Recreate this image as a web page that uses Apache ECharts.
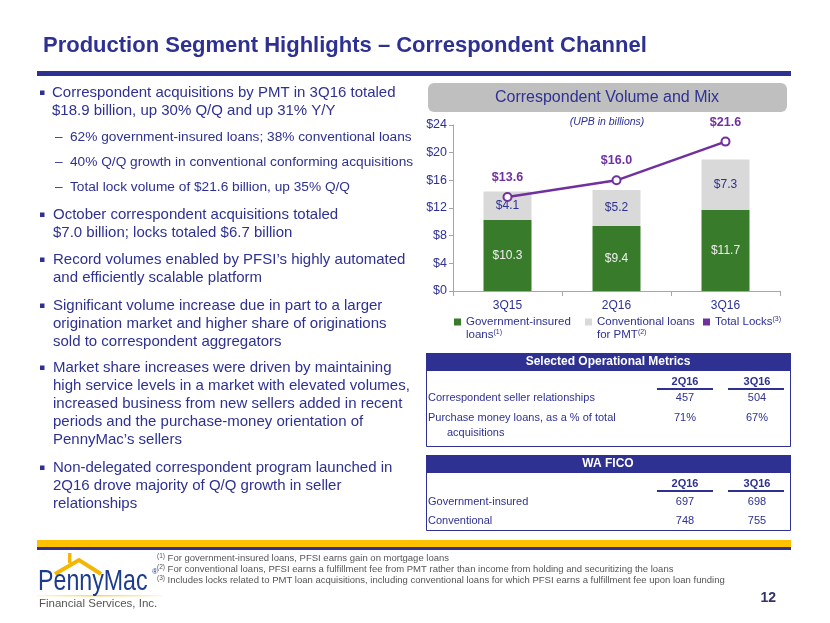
<!DOCTYPE html>
<html><head><meta charset="utf-8">
<script src="https://cdn.jsdelivr.net/npm/echarts@6/dist/echarts.min.js"></script>
<style>html,body{margin:0;padding:0;background:#fff}#c{width:830px;height:623px}</style>
</head><body><div id="c"></div>
<script>
// ---- data ----
const categories = ['3Q15', '2Q16', '3Q16'];
const govInsured = [10.3, 9.4, 11.7];
const conventional = [4.1, 5.2, 7.3];
const totalLocks = [13.6, 16.0, 21.6];
const yMin = 0, yMax = 24, yStep = 4;
const metricCols = ['2Q16', '3Q16'];
const sellerRel = ['457', '504'];
const purchasePct = ['71%', '67%'];
const ficoGov = ['697', '698'];
const ficoConv = ['748', '755'];

// ---- style ----
const BLUE = '#2E3192';
const GREEN = '#387C2B';
const GRAY = '#D9D9D9';
const PURPLE = '#7030A0';
const FONT = '"Liberation Sans", Arial, Helvetica, sans-serif';

function T(x, y, text, size, o) {
  o = o || {};
  return {
    type: 'text', x: x, y: y, silent: true, z: 10,
    scaleX: o.scaleX || 1,
    style: {
      text: text,
      font: (o.italic ? 'italic ' : '') + (o.bold ? 'bold ' : '') + size + 'px ' + FONT,
      fill: o.fill || BLUE,
      align: o.align || 'left', textAlign: o.align || 'left',
      verticalAlign: o.va || 'middle', textVerticalAlign: o.va || 'middle',
      lineHeight: o.lh, rich: o.rich
    }
  };
}
function R(x, y, w, h, fill, o) {
  o = o || {};
  return { type: 'rect', silent: true, z: o.z || 5, shape: { x: x, y: y, width: w, height: h, r: o.r || 0 },
    style: { fill: fill, stroke: o.stroke || null, lineWidth: o.lw || 0 } };
}

const G = [];
// title
G.push(T(43, 46, 'Production Segment Highlights \u2013 Correspondent Channel', 22, { bold: true }));
G.push(R(37, 71, 754, 5, BLUE));

// left bullet text
function para(y, lines, x, size, bullet) {
  if (bullet === 'sq') G.push(R(40, y - 2.5, 4.5, 4.5, BLUE));
  if (bullet === 'dash') G.push(T(55, y, '\u2013', size));
  G.push(T(x, y - 9, lines.join('\n'), size, { va: 'top', lh: 18 }));
}
para(93, ['Correspondent acquisitions by PMT in 3Q16 totaled', '$18.9 billion, up 30% Q/Q and up 31% Y/Y'], 52, 15, 'sq');
para(137, ['62% government-insured loans; 38% conventional loans'], 70, 13.7, 'dash');
para(162, ['40% Q/Q growth in conventional conforming acquisitions'], 70, 13.7, 'dash');
para(187, ['Total lock volume of $21.6 billion, up 35% Q/Q'], 70, 13.7, 'dash');
para(215, ['October correspondent acquisitions totaled', '$7.0 billion; locks totaled $6.7 billion'], 53, 15, 'sq');
para(260, ['Record volumes enabled by PFSI\u2019s highly automated', 'and efficiently scalable platform'], 53, 15, 'sq');
para(306, ['Significant volume increase due in part to a larger', 'origination market and higher share of originations', 'sold to correspondent aggregators'], 53, 15, 'sq');
para(368, ['Market share increases were driven by maintaining', 'high service levels in a market with elevated volumes,', 'increased business from new sellers added in recent', 'periods and the purchase-money orientation of', 'PennyMac\u2019s sellers'], 53, 15, 'sq');
para(468, ['Non-delegated correspondent program launched in', '2Q16 drove majority of Q/Q growth in seller', 'relationships'], 53, 15, 'sq');

// chart header
G.push(R(428, 83, 359, 29, '#BFBFBF', { r: 6 }));
G.push(T(607, 98, 'Correspondent Volume and Mix', 16, { align: 'center' }));
G.push(T(607, 122, '(UPB in billions)', 10.5, { align: 'center', italic: true }));

// tables
function table(top, h, title, rows) {
  G.push(R(426.5, top + 0.5, 364, h, '#fff', { stroke: BLUE, lw: 1, z: 4 }));
  G.push(R(426, top, 365, 18, BLUE));
  G.push(T(608, top + 9, title, 12, { bold: true, fill: '#fff', align: 'center' }));
  G.push(T(685, top + 29, metricCols[0], 11, { bold: true, align: 'center' }));
  G.push(T(757, top + 29, metricCols[1], 11, { bold: true, align: 'center' }));
  G.push(R(657, top + 35, 56, 2, BLUE));
  G.push(R(728, top + 35, 56, 2, BLUE));
  rows.forEach(function (r) {
    G.push(T(428, r.y, r.label, 11));
    if (r.label2) G.push(T(447, r.y + 15, r.label2, 11));
    G.push(T(685, r.y, r.v[0], 11, { align: 'center' }));
    G.push(T(757, r.y, r.v[1], 11, { align: 'center' }));
  });
}
table(353, 93, 'Selected Operational Metrics', [
  { y: 398, label: 'Correspondent seller relationships', v: sellerRel },
  { y: 418, label: 'Purchase money loans, as a % of total', label2: 'acquisitions', v: purchasePct }
]);
table(455, 75, 'WA FICO', [
  { y: 502, label: 'Government-insured', v: ficoGov },
  { y: 521, label: 'Conventional', v: ficoConv }
]);

// bottom bands
G.push(R(37, 540, 754, 7, '#FFC000'));
G.push(R(37, 547, 754, 3, BLUE));

// footnotes
const fnRich = { s: { fontSize: 6.5, fontFamily: FONT, fill: '#555', verticalAlign: 'top', lineHeight: 11 },
                 t: { fontSize: 9.5, fontFamily: FONT, fill: '#555', lineHeight: 11 } };
G.push(T(157, 558, '{s|(1)}{t| For government-insured loans, PFSI earns gain on mortgage loans}', 9.5, { rich: fnRich, fill: '#555' }));
G.push(T(157, 569, '{s|(2)}{t| For conventional loans, PFSI earns a fulfillment fee from PMT rather than income from holding and securitizing the loans}', 9.5, { rich: fnRich, fill: '#555' }));
G.push(T(157, 580, '{s|(3)}{t| Includes locks related to PMT loan acquisitions, including conventional loans for which PFSI earns a fulfillment fee upon loan funding}', 9.5, { rich: fnRich, fill: '#555' }));
G.push(T(776, 598, '12', 14, { bold: true, align: 'right', fill: '#33336B' }));

// logo
G.push({ type: 'polyline', silent: true, z: 6, shape: { points: [[55, 574], [79, 560], [101, 574]] },
  style: { stroke: '#F2B705', lineWidth: 4, fill: null, lineJoin: 'miter' } });
G.push(R(68, 553, 3.5, 10, '#F2B705'));
G.push(T(38, 582, 'PennyMac', 29, { fill: '#1D3C8F', scaleX: 0.8 }));
G.push(T(152, 572, '\u00AE', 8, { fill: '#1D3C8F' }));
G.push({ type: 'rect', silent: true, z: 5, shape: { x: 37, y: 595, width: 125, height: 1.5 },
  style: { fill: new echarts.graphic.LinearGradient(0, 0, 1, 0, [{ offset: 0, color: 'rgba(242,183,5,0.1)' }, { offset: 0.5, color: 'rgba(242,183,5,0.6)' }, { offset: 1, color: 'rgba(242,183,5,0.1)' }]) } });
G.push(T(39, 604, 'Financial Services, Inc.', 11.5, { fill: '#555' }));

const legendBase = {
  orient: 'horizontal', icon: 'rect', itemWidth: 7, itemHeight: 7, itemGap: 0, padding: 0,
  selectedMode: false
};
const legRich = {
  t: { fontSize: 11.5, fontFamily: FONT, color: BLUE, lineHeight: 13 },
  s: { fontSize: 7, fontFamily: FONT, color: BLUE, lineHeight: 13, verticalAlign: 'top' }
};

const option = {
  animation: false,
  backgroundColor: '#fff',
  grid: { left: 453, top: 125, width: 327, height: 166 },
  xAxis: {
    type: 'category', data: categories,
    axisLine: { lineStyle: { color: '#A6A6A6' } },
    axisTick: { show: true, length: 5, lineStyle: { color: '#A6A6A6' } },
    axisLabel: { color: BLUE, fontSize: 12, fontFamily: FONT, margin: 9 }
  },
  yAxis: {
    type: 'value', min: yMin, max: yMax, interval: yStep,
    axisLine: { show: true, lineStyle: { color: '#A6A6A6' } },
    axisTick: { show: true, length: 4, lineStyle: { color: '#A6A6A6' } },
    splitLine: { show: false },
    axisLabel: { formatter: function (v) { return '$' + v; }, color: BLUE, fontSize: 12.5, fontFamily: FONT, margin: 6 }
  },
  legend: [
    Object.assign({}, legendBase, { data: ['Government-insured loans'], left: 454, top: 302.5,
      formatter: function () { return '\n{t|Government-insured}\n{t|loans}{s|(1)}'; },
      textStyle: { color: BLUE, fontSize: 11.5, lineHeight: 13, fontFamily: FONT, rich: legRich } }),
    Object.assign({}, legendBase, { data: ['Conventional loans for PMT'], left: 585, top: 302.5,
      formatter: function () { return '\n{t|Conventional loans}\n{t|for PMT}{s|(2)}'; },
      textStyle: { color: BLUE, fontSize: 11.5, lineHeight: 13, fontFamily: FONT, rich: legRich } }),
    Object.assign({}, legendBase, { data: ['Total Locks'], left: 703, top: 315.5,
      itemStyle: { color: PURPLE, borderWidth: 0 },
      formatter: function () { return '{t|Total Locks}{s|(3)}'; },
      textStyle: { color: BLUE, fontSize: 11.5, lineHeight: 13, fontFamily: FONT, rich: legRich } })
  ],
  series: [
    { name: 'Government-insured loans', type: 'bar', stack: 'vol', data: govInsured, barWidth: 48,
      itemStyle: { color: GREEN },
      label: { show: true, position: 'inside', formatter: function (p) { return '$' + p.value.toFixed(1); },
        color: '#EFEFEF', fontSize: 12, fontFamily: FONT } },
    { name: 'Conventional loans for PMT', type: 'bar', stack: 'vol', data: conventional, barWidth: 48,
      itemStyle: { color: GRAY },
      label: { show: true, position: 'inside', formatter: function (p) { return '$' + p.value.toFixed(1); },
        color: BLUE, fontSize: 12, fontFamily: FONT } },
    { name: 'Total Locks', type: 'line', data: totalLocks, symbol: 'emptyCircle', symbolSize: 8, z: 5,
      itemStyle: { color: PURPLE, borderWidth: 2 },
      lineStyle: { color: PURPLE, width: 2.5 },
      label: { show: true, position: 'top', distance: 8, formatter: function (p) { return '$' + p.value.toFixed(1); },
        color: PURPLE, fontWeight: 'bold', fontSize: 12.5, fontFamily: FONT } }
  ],
  graphic: { elements: G }
};
const chart = echarts.init(document.getElementById('c'), null, { renderer: 'canvas' });
chart.setOption(option);
</script>
</body></html>
